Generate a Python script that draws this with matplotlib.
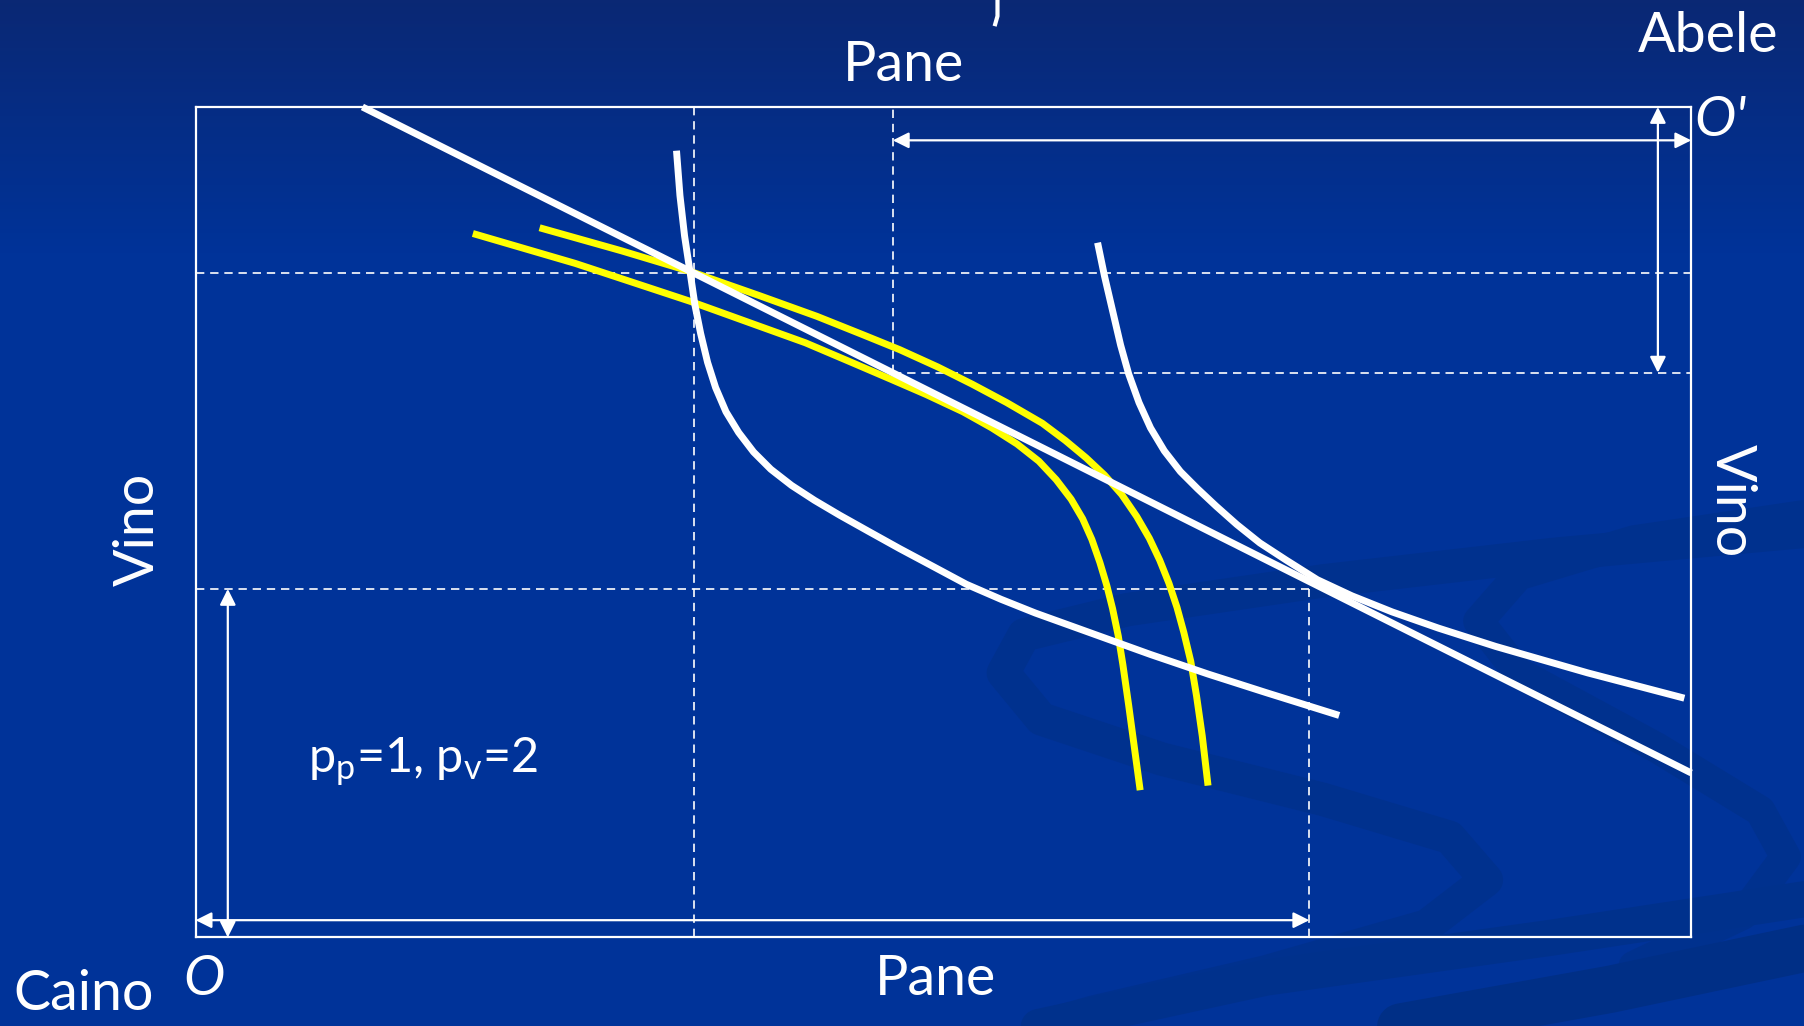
import matplotlib
matplotlib.use("Agg")
import matplotlib.pyplot as plt
import numpy as np

# Edgeworth box: Caino's origin bottom-left, Abele's origin (O') top-right.
box_pane = 13.0
box_vino = 7.22

caino_endow = (9.68, 3.03)      # from O
abele_endow = (6.94, 2.31)      # from O'
equil = (4.33, 5.78)

budget_x = [1.45, 13.0]
budget_y = [7.22, 1.43]

# Caino indifference curves (white)
caino_ic1_x = [4.18, 4.21, 4.25, 4.30, 4.34, 4.39, 4.45, 4.52, 4.61, 4.72, 4.85,
               5.00, 5.18, 5.38, 5.60, 5.85, 6.12, 6.42, 6.70, 7.00, 7.30, 7.80,
               8.30, 8.80, 9.30, 9.94]
caino_ic1_y = [6.84, 6.45, 6.10, 5.77, 5.50, 5.25, 5.00, 4.78, 4.57, 4.39, 4.22,
               4.07, 3.93, 3.80, 3.67, 3.53, 3.38, 3.22, 3.07, 2.94, 2.82, 2.64,
               2.46, 2.29, 2.13, 1.93]

caino_ic2_x = [7.84, 7.90, 7.97, 8.04, 8.11, 8.20, 8.30, 8.42, 8.56, 8.71, 8.87,
               9.05, 9.25, 9.48, 9.75, 10.05, 10.40, 10.80, 11.30, 12.10, 12.94]
caino_ic2_y = [6.04, 5.75, 5.45, 5.15, 4.90, 4.65, 4.43, 4.23, 4.05, 3.90, 3.75,
               3.59, 3.43, 3.28, 3.11, 2.97, 2.83, 2.69, 2.53, 2.30, 2.08]

# Abele indifference curves (yellow)
abele_ic1_x = [2.41, 3.30, 4.30, 5.30, 5.70, 6.05, 6.35, 6.67, 6.92, 7.14, 7.33,
               7.48, 7.61, 7.71, 7.79, 7.86, 7.92, 7.97, 8.02, 8.06, 8.11, 8.16,
               8.21]
abele_ic1_y = [6.12, 5.86, 5.53, 5.17, 5.00, 4.85, 4.72, 4.57, 4.43, 4.29, 4.14,
               3.98, 3.81, 3.64, 3.46, 3.26, 3.06, 2.86, 2.62, 2.37, 2.02, 1.65,
               1.28]

abele_ic2_x = [2.99, 3.70, 4.30, 4.90, 5.40, 5.80, 6.12, 6.45, 6.75, 7.05, 7.36,
               7.56, 7.74, 7.90, 8.05, 8.18, 8.29, 8.38, 8.46, 8.53, 8.59, 8.65,
               8.70, 8.75, 8.80]
abele_ic2_y = [6.17, 5.97, 5.79, 5.58, 5.40, 5.24, 5.11, 4.96, 4.81, 4.65, 4.47,
               4.32, 4.17, 4.02, 3.85, 3.66, 3.47, 3.28, 3.08, 2.87, 2.65, 2.40,
               2.10, 1.75, 1.32]

# background swooshes (slide decoration, in slide pixels)
swoosh_a = [(1568, 462), (1350, 482), (1150, 505), (980, 530), (890, 552),
            (872, 585), (905, 625), (1010, 660), (1150, 695), (1260, 728),
            (1292, 765), (1240, 805), (1100, 845), (950, 880), (880, 900)]
swoosh_b = [(1568, 448), (1420, 470), (1320, 500), (1285, 540), (1320, 585),
            (1440, 650), (1530, 705), (1552, 745), (1515, 795), (1420, 840)]
swoosh_c = [(870, 900), (1100, 850), (1350, 815), (1580, 780)]
swoosh_d = [(1150, 905), (1400, 860), (1580, 822)]
title_tail = [(867, -2), (867, 14), (865, 21)]

plt.rcParams["font.family"] = ["Lato", "DejaVu Sans"]
plt.rcParams["mathtext.fontset"] = "custom"
plt.rcParams["mathtext.rm"] = "Lato"
plt.rcParams["mathtext.it"] = "Lato:italic"

W, H = 1568, 892
fig = plt.figure(figsize=(18.04, 10.26), dpi=100)

bg = fig.add_axes([0, 0, 1, 1])
bg.set_xlim(0, W)
bg.set_ylim(H, 0)
bg.axis("off")
top_col = np.array([10, 40, 116]) / 255
body_col = np.array([0, 51, 153]) / 255
t = np.clip(np.linspace(0, H, 300) / 220.0, 0, 1)[:, None]
grad = top_col * (1 - t) + body_col * t
bg.imshow(grad[:, None, :], extent=[0, W, H, 0], aspect="auto", zorder=0)
for pts, lw, col in [(swoosh_a, 24, "#00318e"), (swoosh_b, 22, "#00318e"),
                     (swoosh_c, 26, "#00318c"), (swoosh_d, 34, "#002f86")]:
    xs, ys = zip(*pts)
    bg.plot(xs, ys, color=col, lw=lw, solid_capstyle="round", zorder=1)
xs, ys = zip(*title_tail)
bg.plot(xs, ys, color="white", lw=3, zorder=2)

ax = fig.add_axes([170 / W, 1 - 815 / H, 1300 / W, 722 / H])
ax.set_xlim(0, box_pane)
ax.set_ylim(0, box_vino)
ax.patch.set_alpha(0)
ax.set_xticks([])
ax.set_yticks([])
for s in ax.spines.values():
    s.set_color("white")
    s.set_linewidth(1.6)

# dashed guides
dash = dict(color="white", lw=1.2, ls=(0, (5, 3.5)), zorder=2)
ax.plot([equil[0], equil[0]], [0, box_vino], **dash)
ax.plot([0, box_pane], [equil[1], equil[1]], **dash)
ax.plot([caino_endow[0]] * 2, [0, caino_endow[1]], **dash)
ax.plot([0, caino_endow[0]], [caino_endow[1]] * 2, **dash)
ab_x = box_pane - abele_endow[0]
ab_y = box_vino - abele_endow[1]
ax.plot([ab_x, ab_x], [ab_y, box_vino], **dash)
ax.plot([ab_x, box_pane], [ab_y, ab_y], **dash)

# endowment arrows
arr = dict(arrowstyle="<|-|>", color="white", lw=1.6, mutation_scale=24,
           shrinkA=0, shrinkB=0)
ax.annotate("", xy=(caino_endow[0], 0.15), xytext=(0, 0.15), arrowprops=arr)
ax.annotate("", xy=(0.28, caino_endow[1]), xytext=(0.28, 0), arrowprops=arr)
ax.annotate("", xy=(ab_x, box_vino - 0.29), xytext=(box_pane, box_vino - 0.29),
            arrowprops=arr)
ax.annotate("", xy=(box_pane - 0.29, ab_y), xytext=(box_pane - 0.29, box_vino),
            arrowprops=arr)

# curves
curve = dict(lw=5.0, solid_capstyle="butt", solid_joinstyle="round")
ax.plot(budget_x, budget_y, color="white", clip_on=False, zorder=4, **curve)
for cx, cy in [(caino_ic1_x, caino_ic1_y), (caino_ic2_x, caino_ic2_y)]:
    ax.plot(cx, cy, color="white", zorder=4, **curve)
for cx, cy in [(abele_ic1_x, abele_ic1_y), (abele_ic2_x, abele_ic2_y)]:
    ax.plot(cx, cy, color="#ffff00", zorder=3, **curve)


def label(x, y, s, **kw):
    fig.text(x / W, 1 - y / H, s, color="white", fontsize=40,
             ha="center", va="center", **kw)


label(785, 57, "Pane")
label(813, 852, "Pane")
label(1485, 32, "Abele")
label(73, 865, "Caino")
label(1495, 105, "O'", style="italic")
label(177, 852, "O", style="italic")
label(120, 460, "Vino", rotation=90)
label(1505, 435, "Vino", rotation=-90)
fig.text(268 / W, 1 - 662 / H, r"p$_{\mathrm{p}}$=1, p$_{\mathrm{v}}$=2",
         color="white", fontsize=35, ha="left", va="center")

fig.savefig("out.png", dpi=100)
